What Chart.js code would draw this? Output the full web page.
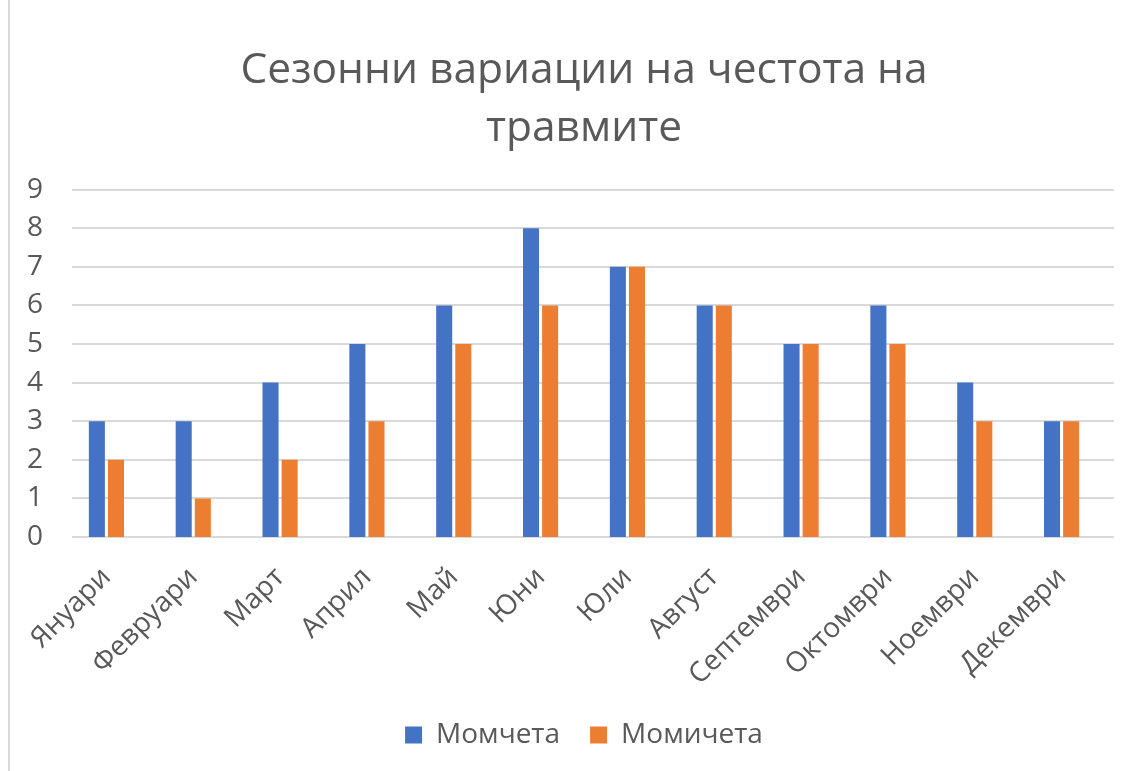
<!DOCTYPE html>
<html>
<head>
<meta charset="utf-8">
<script src="https://cdn.jsdelivr.net/npm/chart.js@4/dist/chart.umd.min.js"></script>
<style>
  html, body { margin: 0; padding: 0; background: #fff; }
  #frame { position: absolute; left: 8px; top: 0; width: 1124px; height: 771px; border-left: 2px solid #d9d9d9; box-sizing: border-box; }
  #wrap { position: absolute; left: 0; top: 0; width: 1132px; height: 771px; }
</style>
</head>
<body>
<div id="frame"></div>
<div id="wrap"><canvas id="chart" width="1132" height="771"></canvas></div>
<script>
const months = ["Януари", "Февруари", "Март", "Април", "Май", "Юни", "Юли", "Август", "Септември", "Октомври", "Ноември", "Декември"];
const boys = [3, 3, 4, 5, 6, 8, 7, 6, 5, 6, 4, 3];
const girls = [2, 1, 2, 3, 5, 6, 7, 6, 5, 5, 3, 3];
const titleLines = ["Сезонни вариации на честота на", "травмите"];

const textColor = "#595959";
const gridColor = "#d9d9d9";
const gridShift = 9;

// horizontal gridlines sit a little to the right of the bar slots, like the original
const shiftedGrid = {
  id: "shiftedGrid",
  beforeDatasetsDraw(chart) {
    const { ctx, chartArea, scales } = chart;
    ctx.save();
    ctx.strokeStyle = gridColor;
    ctx.lineWidth = 2;
    scales.y.ticks.forEach((tick) => {
      const y = Math.round(scales.y.getPixelForValue(tick.value));
      ctx.beginPath();
      ctx.moveTo(chartArea.left + gridShift, y);
      ctx.lineTo(chartArea.right + gridShift, y);
      ctx.stroke();
    });
    ctx.restore();
  },
};

new Chart(document.getElementById("chart"), {
  type: "bar",
  data: {
    labels: months,
    datasets: [
      { label: "Момчета", data: boys, backgroundColor: "#4472C4" },
      { label: "Момичета", data: girls, backgroundColor: "#ED7D31" },
    ],
  },
  plugins: [shiftedGrid],
  options: {
    responsive: false,
    animation: false,
    datasets: { bar: { categoryPercentage: 0.44, barPercentage: 0.84 } },
    layout: { padding: { left: 11, right: 27, top: 42, bottom: 12 } },
    plugins: {
      title: {
        display: true,
        fullSize: false,
        text: titleLines,
        color: textColor,
        font: { family: "Open Sans", size: 42.5, weight: "normal", lineHeight: 1.36 },
        padding: { top: 0, bottom: 32 },
      },
      legend: {
        position: "bottom",
        fullSize: false,
        labels: {
          color: textColor,
          font: { family: "Open Sans", size: 28 },
          boxWidth: 17,
          boxHeight: 17,
          padding: 30,
        },
      },
      tooltip: { enabled: false },
    },
    scales: {
      x: {
        grid: { display: false },
        border: { display: false },
        ticks: {
          color: textColor,
          font: { family: "Open Sans", size: 28 },
          maxRotation: 45,
          minRotation: 45,
          padding: 16,
        },
        afterFit: (scale) => { scale.height = 154; },
      },
      y: {
        min: 0,
        max: 9,
        ticks: {
          stepSize: 1,
          color: textColor,
          font: { family: "Open Sans", size: 28 },
          padding: 12,
        },
        grid: { display: false },
        border: { display: false },
        afterFit: (scale) => { scale.width = 52; },
      },
    },
  },
});
</script>
</body>
</html>
